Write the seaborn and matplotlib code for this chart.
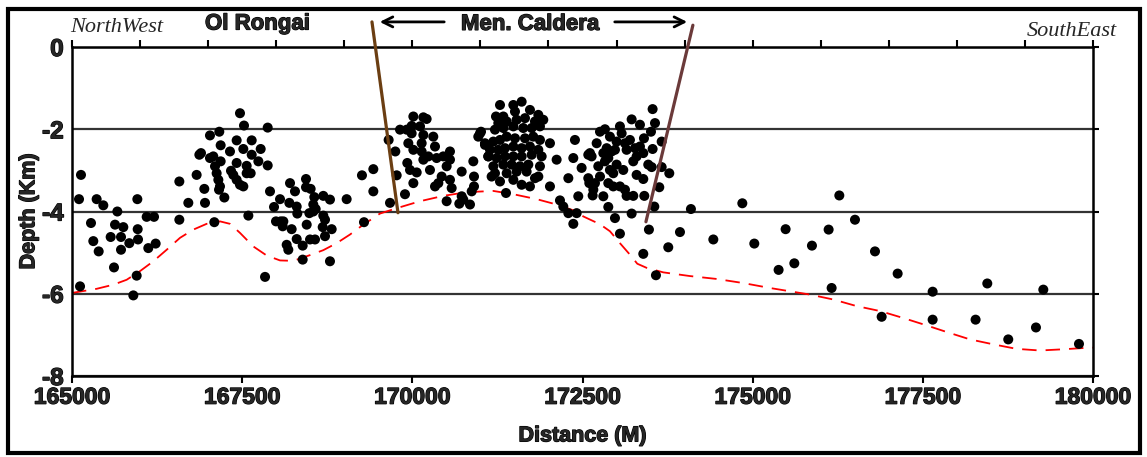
import matplotlib
matplotlib.use("Agg")
import matplotlib.pyplot as plt
import matplotlib.patheffects as pe
from matplotlib.patches import Rectangle
from matplotlib.ticker import MultipleLocator
import seaborn as sns
import pandas as pd

# ---------------- data ----------------
quake_distance = [
    # Ol Rongai west group
    165118, 165132, 165103, 165279, 165362, 165460, 165313, 165392, 165617, 165568,
    165666, 165632, 165754, 165720, 165720, 165842, 165960, 165965, 165970, 165950,
    165901, 166097, 166205, 166121, 166229, 166577, 166577, 166709, 166831, 166871,
    166895, 166954, 166944, 167091, 167027, 167164, 167184, 167184, 167027, 167076,
    167101, 167125, 167150, 167174, 167160, 167238, 167321, 167336, 167370, 167419,
    167468, 167517, 167419, 167468, 167527, 167419, 167517, 167640, 167640, 167566,
    167566, 167625, 167772, 167738, 167875, 167875, 167591, 167836,
    # Ol Rongai east group
    167909, 168056, 167968, 168203, 168276, 168438, 168438, 168506, 168560, 168545,
    168580, 168692, 168790, 168193, 168301, 168310, 167997, 168066, 168105, 168095,
    168227, 168301, 168389, 168154, 168178, 168448, 168487, 168545, 168497, 168570,
    168692, 168717, 168683, 168815, 168717, 168389, 168790, 169035, 169260, 169427,
    169427, 169672, 169290, 169652, 169750, 169770,
    # caldera west
    169892, 169819, 169917, 169990, 170015, 169990, 170162, 170210, 170113, 170162,
    169941, 170015, 170137, 170137, 169926, 169966, 170064, 170015, 170162, 170235,
    170308, 170333, 170357, 170455, 170553, 170553, 170504, 170259, 170431, 170382,
    170333, 170553, 170578, 170504, 170725, 170690, 170749, 170847, 170896, 170906,
    170906, 170872, 170725, 170994, 171067, 171116,
    # caldera centre
    171288, 171484, 171606, 171508, 171728, 171851, 171924, 171229, 171337, 171263,
    171386, 171532, 171655, 171802, 171009, 170969, 171214, 171337, 171484, 171630,
    171753, 171875, 171067, 171190, 171288, 171386, 171508, 171655, 171777, 171875,
    172022, 171141, 171263, 171361, 171484, 171606, 171728, 171851, 171116, 171239,
    171361, 171484, 171606, 171753, 171900, 171190, 171337, 171459, 171581, 171704,
    171875, 171214, 171386, 171532, 171679, 171802, 171165, 171288, 171484, 171606,
    171728, 171851, 172022, 172120, 172389, 172365, 172487, 172292, 172438, 172585,
    171376, 172169, 172218, 172292, 172365, 172414,
    # caldera east
    172649, 172585, 172600, 172659, 172610, 172634, 172708, 172757, 172830, 172903,
    173050, 173075, 173222, 173344, 173530, 173565, 173506, 173663, 173403, 173197,
    173124, 173001, 172855, 172928, 172806, 172879, 172830, 172977, 173148, 173271,
    173344, 173393, 173295, 173246, 173001, 173099, 172903, 172952, 172732, 172757,
    172879, 173050, 173124, 172952, 172806, 172683, 173295, 173393, 173466, 173516,
    173663, 173775, 173628, 173530, 173246, 173408, 173148, 172879, 173222, 172977,
    173050, 173555, 173476, 173393, 173579, 173760, 173932, 174093, 174422, 174848,
    175024, 175484, 175381, 175612,
    # south-east tail
    175871, 176116, 176273, 176503, 176160, 176797, 177130, 176895, 177644, 177644,
    178275, 178447, 178755, 179162, 179270, 179794,
]
quake_depth = [
    -5.82, -3.11, -3.70, -4.28, -3.70, -3.85, -4.72, -4.97, -5.36, -4.62,
    -4.00, -4.32, -4.38, -4.62, -4.93, -4.77, -3.70, -4.43, -4.68, -5.56,
    -6.04, -4.13, -4.13, -4.89, -4.78, -3.27, -4.20, -3.79, -3.11, -2.62,
    -2.58, -3.79, -3.45, -4.26, -2.15, -2.06, -2.39, -2.78, -2.70, -2.66,
    -2.90, -3.07, -3.23, -3.39, -3.47, -3.66, -2.54, -3.01, -3.11, -3.23,
    -3.35, -3.39, -2.82, -1.61, -1.91, -2.27, -2.48, -2.27, -2.62, -2.89,
    -3.07, -3.07, -2.48, -2.78, -1.96, -2.88, -4.10, -5.59,
    -3.51, -3.70, -3.89, -3.31, -3.51, -3.21, -3.41, -3.45, -3.65, -3.83,
    -3.94, -3.62, -3.71, -3.79, -3.88, -4.05, -4.24, -4.24, -4.24, -4.36,
    -4.43, -4.67, -4.83, -4.81, -4.93, -4.32, -4.04, -4.00, -4.68, -4.68,
    -4.10, -4.20, -4.38, -4.43, -4.60, -5.17, -5.21, -3.70, -3.12, -2.97,
    -3.51, -3.79, -4.26, -2.26, -2.54, -3.12,
    -3.58, -2.01, -2.01, -1.92, -1.69, -2.10, -1.71, -1.75, -1.93, -2.14,
    -2.34, -2.50, -2.34, -2.54, -2.82, -2.99, -3.05, -3.31, -2.74, -2.66,
    -2.18, -2.42, -2.70, -2.66, -2.54, -2.74, -2.90, -2.99, -3.15, -3.31,
    -3.39, -3.23, -3.43, -3.75, -3.63, -3.81, -3.71, -3.83, -2.78, -3.15,
    -3.39, -3.51, -3.03, -2.10, -2.38, -2.66,
    -1.41, -1.41, -1.33, -1.57, -1.53, -1.65, -1.77, -1.69, -1.69, -1.85,
    -1.81, -1.77, -1.73, -1.81, -2.06, -2.18, -2.01, -1.97, -1.93, -1.97,
    -1.97, -1.93, -2.34, -2.30, -2.26, -2.18, -2.22, -2.22, -2.18, -2.26,
    -2.34, -2.50, -2.50, -2.46, -2.42, -2.46, -2.42, -2.50, -2.66, -2.70,
    -2.66, -2.66, -2.66, -2.62, -2.66, -2.90, -2.86, -2.86, -2.90, -2.86,
    -2.90, -3.07, -3.07, -3.03, -3.03, -3.19, -3.15, -3.27, -3.23, -3.35,
    -3.39, -3.15, -3.39, -2.74, -2.26, -2.70, -2.94, -3.19, -3.63, -2.62,
    -3.55, -3.73, -3.88, -4.04, -4.30, -4.04,
    -3.61, -3.19, -3.31, -3.47, -2.58, -2.66, -2.34, -2.06, -2.00, -2.18,
    -1.93, -2.10, -1.76, -1.89, -1.51, -1.85, -2.06, -2.30, -2.22, -2.26,
    -2.34, -2.30, -2.46, -2.54, -2.58, -2.70, -2.78, -2.50, -2.50, -2.46,
    -2.42, -2.58, -2.66, -2.78, -2.86, -2.99, -2.99, -3.07, -2.90, -3.15,
    -3.31, -3.39, -3.47, -3.39, -3.63, -3.31, -3.11, -3.21, -2.86, -2.92,
    -2.92, -3.07, -3.41, -2.48, -3.62, -3.62, -3.62, -3.89, -4.05, -4.16,
    -4.54, -3.88, -4.44, -5.03, -5.55, -4.87, -4.50, -3.94, -4.68, -3.80,
    -4.78, -4.43, -5.42, -5.26,
    -4.83, -4.44, -3.61, -4.20, -5.86, -4.97, -5.51, -6.56, -5.95, -6.63,
    -6.63, -5.75, -7.11, -6.82, -5.90, -7.22,
]

boundary_distance = [
    165000, 165362, 165607, 165803, 165999, 166195, 166391, 166587, 166783, 166978,
    167174, 167321, 167468, 167664, 167860, 168056, 168252, 168497, 168692, 168888,
    169084, 169280, 169525, 169770, 170113, 170455, 170798, 171190, 171484, 171827,
    172120, 172414, 172512, 172757, 172903, 173050, 173197, 173305, 173442, 173687,
    174079, 174470, 174862, 175254, 175842, 176185, 176527, 176870, 177213, 177556,
    177850, 178193, 178535, 178878, 179221, 179564, 179955, 180000,
]
boundary_depth = [
    -5.98, -5.88, -5.78, -5.66, -5.45, -5.21, -4.93, -4.64, -4.44, -4.30,
    -4.24, -4.30, -4.52, -4.85, -5.07, -5.19, -5.20, -5.06, -4.94, -4.77,
    -4.56, -4.32, -4.05, -3.92, -3.75, -3.62, -3.53, -3.50, -3.58, -3.70,
    -3.83, -4.00, -4.12, -4.31, -4.48, -4.77, -5.05, -5.27, -5.37, -5.48,
    -5.57, -5.64, -5.74, -5.86, -6.02, -6.14, -6.30, -6.42, -6.59, -6.77,
    -6.93, -7.11, -7.23, -7.34, -7.38, -7.35, -7.31, -7.31,
]

fault_west_distance = [169407, 169789]
fault_west_depth = [0.61, -4.03]
fault_east_distance = [174122, 173432]
fault_east_depth = [0.53, -4.25]

caldera_span = [169480, 174079]
caldera_label_x = 171730
x_ticks = [165000, 167500, 170000, 172500, 175000, 177500, 180000]
y_ticks = [0, -2, -4, -6, -8]

# ---------------- style ----------------
sns.set_style("white")
plt.rcParams['font.family'] = ['Liberation Sans', 'DejaVu Sans']

fig = plt.figure(figsize=(11.47, 4.57), dpi=100)
ax = fig.add_axes([72 / 1147, 1 - 376 / 457, (1093 - 72) / 1147, (376 - 47) / 457])

quakes = pd.DataFrame({"Distance": quake_distance, "Depth": quake_depth})
boundary = pd.DataFrame({"Distance": boundary_distance, "Depth": boundary_depth})

sns.lineplot(data=boundary, x="Distance", y="Depth", sort=False, ax=ax,
             color="#ff0000", lw=1.3, dashes=False, zorder=2)
ax.lines[-1].set_dashes((8, 5))

sns.scatterplot(data=quakes, x="Distance", y="Depth", ax=ax, color="black",
                s=52, edgecolor="none", linewidth=0, zorder=3)

ax.plot(fault_west_distance, fault_west_depth, color="#6b3e12", lw=2.3,
        clip_on=False, zorder=4)
ax.plot(fault_east_distance, fault_east_depth, color="#6b3a3a", lw=2.3,
        clip_on=False, zorder=4)

ax.set_xlim(165000, 180000)
ax.set_ylim(-8, 0)

heavy = [pe.withStroke(linewidth=0.9, foreground="black")]

ax.set_xticks(x_ticks)
ax.set_xticklabels([str(v) for v in x_ticks], fontsize=16.5, fontweight="bold")
ax.set_yticks(y_ticks)
ax.set_yticklabels([str(v) for v in y_ticks], fontsize=17.5, fontweight="bold")
for lab in ax.get_xticklabels() + ax.get_yticklabels():
    lab.set_path_effects(heavy)
ax.xaxis.set_minor_locator(MultipleLocator(1000))
ax.xaxis.remove_overlapping_locs = False

ax.tick_params(axis="x", which="major", bottom=True, top=False, direction="out",
               length=5, width=1.5, color="black", pad=2)
ax.tick_params(axis="x", which="minor", bottom=False, top=True, direction="out",
               length=5, width=1.5, color="black")
ax.tick_params(axis="y", which="major", left=False, right=True, direction="out",
               length=4, width=1.5, color="black", pad=2)

ax.grid(axis="y", color="#333333", lw=1.6)
ax.set_axisbelow(True)
for sp in ax.spines.values():
    sp.set_visible(True)
    sp.set_color("black")
    sp.set_linewidth(1.8)

ax.set_xlabel("Distance (M)", fontsize=15.5, fontweight="bold", labelpad=12,
              path_effects=heavy)
ax.set_ylabel("Depth (Km)", fontsize=15.5, fontweight="bold", labelpad=2,
              path_effects=heavy)

# caldera arrow annotation
ax.annotate("", xy=(caldera_span[0], 0.61), xytext=(170509, 0.61),
            arrowprops=dict(arrowstyle="->", lw=2, color="black", mutation_scale=18),
            annotation_clip=False)
ax.annotate("", xy=(caldera_span[1], 0.61), xytext=(172933, 0.61),
            arrowprops=dict(arrowstyle="->", lw=2, color="black", mutation_scale=18),
            annotation_clip=False)
ax.text(caldera_label_x, 0.55, "Men. Caldera", ha="center", va="center",
        fontsize=16, fontweight="bold", clip_on=False, path_effects=heavy)

fig.text(70 / 1147, 1 - 28 / 457, "NorthWest", ha="left", va="center",
         fontsize=16, style="italic", family=["Liberation Serif", "DejaVu Serif"])
fig.text(205 / 1147, 1 - 24 / 457, "Ol Rongai", ha="left", va="center",
         fontsize=16, fontweight="bold", path_effects=heavy)
fig.text(1117 / 1147, 1 - 32 / 457, "SouthEast", ha="right", va="center",
         fontsize=16, style="italic", family=["Liberation Serif", "DejaVu Serif"])

fig.patches.append(Rectangle((8 / 1147, 4 / 457), (1140 - 8) / 1147, (452 - 8) / 457,
                             transform=fig.transFigure, fill=False, lw=3,
                             ec="black"))

fig.savefig("out.png", dpi=100)
